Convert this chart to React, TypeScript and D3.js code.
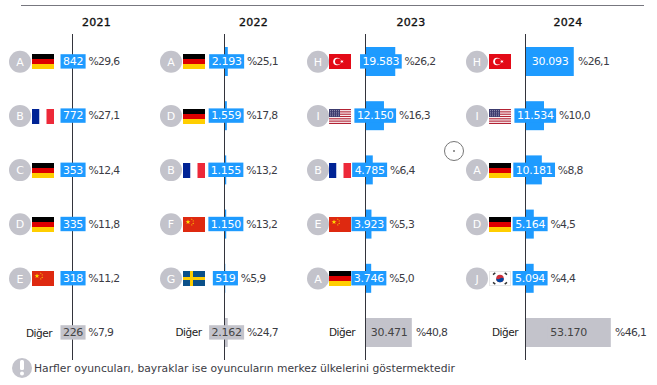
import React from "react";
import * as d3 from "d3";

const years = ["2021", "2022", "2023", "2024"];
const players = [
  ["A", "B", "C", "D", "E", "Diğer"],
  ["A", "D", "B", "F", "G", "Diğer"],
  ["H", "I", "B", "E", "A", "Diğer"],
  ["H", "I", "A", "D", "J", "Diğer"],
];
const flags = [
  ["de", "fr", "de", "de", "cn", ""],
  ["de", "de", "fr", "cn", "se", ""],
  ["tr", "us", "fr", "cn", "de", ""],
  ["tr", "us", "de", "de", "kr", ""],
];
const values = [
  [842, 772, 353, 335, 318, 226],
  [2193, 1559, 1155, 1150, 519, 2162],
  [19583, 12150, 4785, 3923, 3746, 30471],
  [30093, 11534, 10181, 5164, 5094, 53170],
];
const shares = [
  [29.6, 27.1, 12.4, 11.8, 11.2, 7.9],
  [25.1, 17.8, 13.2, 13.2, 5.9, 24.7],
  [26.2, 16.3, 6.4, 5.3, 5.0, 40.8],
  [26.1, 10.0, 8.8, 4.5, 4.4, 46.1],
];
const scaleMax = [150000, 60000, 30471, 53170];
const scalePx = [25, 90, 46.3, 85.3];
const axisX = [72.5, 224.5, 365.5, 525.5];
const headerX = [96.5, 253.5, 411, 568];
const circleX = [20, 171, 318, 477];
const flagX = [32, 183, 329, 489];
const otherX = [39, 188.5, 342, 505];
const otherY = [333, 332, 332, 332];
const FONT = "'DejaVu Sans', Verdana, sans-serif";
const BLUE = "#1e9bff";
const GREY = "#c3c3cb";

const fmt = (v: number) => String(v).replace(/\B(?=(\d{3})+$)/g, ".");
const pct = (v: number) => "%" + v.toFixed(1).replace(".", ",");

const canvas = document.createElement("canvas");
const VALUE_SIZE = 11;
const VALUE_LS = -0.3;
const textW = (s: string, size: number, ls = 0) => {
  const c = canvas.getContext("2d")!;
  c.font = `${size}px 'DejaVu Sans'`;
  return c.measureText(s).width + ls * s.length;
};

const rowY = d3.scaleBand<number>().domain(d3.range(6)).range([47, 347]).paddingInner(0.465);

function Star({ cx, cy, r, fill, rot = 0 }: any) {
  const pts = d3.range(10).map((i) => {
    const a = (i * Math.PI) / 5 - Math.PI / 2 + rot;
    const rr = i % 2 ? r * 0.4 : r;
    return `${cx + rr * Math.cos(a)},${cy + rr * Math.sin(a)}`;
  });
  return <polygon points={pts.join(" ")} fill={fill} />;
}

function Flag({ code }: { code: string }) {
  if (code === "de")
    return (
      <g>
        <rect width={22} height={5} fill="#000" />
        <rect y={5} width={22} height={5} fill="#dd0000" />
        <rect y={10} width={22} height={5} fill="#ffce00" />
      </g>
    );
  if (code === "fr")
    return (
      <g>
        <rect width={7.5} height={15} fill="#002395" />
        <rect x={7.5} width={7} height={15} fill="#fff" />
        <rect x={14.5} width={7.5} height={15} fill="#ed2939" />
      </g>
    );
  if (code === "cn")
    return (
      <g>
        <rect width={22} height={15} fill="#de2910" />
        <Star cx={5} cy={5} r={2.6} fill="#ffde00" />
        <Star cx={8.8} cy={2.2} r={0.9} fill="#ffde00" />
        <Star cx={10.2} cy={4} r={0.9} fill="#ffde00" />
        <Star cx={10.2} cy={6.4} r={0.9} fill="#ffde00" />
        <Star cx={8.8} cy={8} r={0.9} fill="#ffde00" />
      </g>
    );
  if (code === "se")
    return (
      <g>
        <rect width={22} height={15} fill="#0b5089" />
        <rect x={7} width={3} height={15} fill="#fecc00" />
        <rect y={6} width={22} height={3} fill="#fecc00" />
      </g>
    );
  if (code === "tr")
    return (
      <g>
        <rect width={22} height={15} fill="#e30a17" />
        <circle cx={8} cy={7.5} r={3.8} fill="#fff" />
        <circle cx={9} cy={7.5} r={3} fill="#e30a17" />
        <Star cx={13} cy={7.5} r={1.9} fill="#fff" rot={-Math.PI / 2} />
      </g>
    );
  if (code === "us")
    return (
      <g>
        <rect width={22} height={15} fill="#fff" />
        {d3.range(7).map((i) => (
          <rect key={i} y={(i * 2 * 15) / 13} width={22} height={15 / 13} fill="#b22234" />
        ))}
        <rect width={11} height={8} fill="#3c3b6e" />
        {d3.range(4).map((r) =>
          d3.range(5).map((c) => (
            <rect key={`${r}-${c}`} x={1 + c * 2} y={1 + r * 1.8} width={0.8} height={0.8} fill="#b9b9d2" />
          ))
        )}
      </g>
    );
  if (code === "kr")
    return (
      <g>
        <rect x={0.5} y={0.5} width={21} height={14} fill="#fff" stroke="#e8e8e8" />
        <circle cx={11} cy={7.5} r={3.8} fill="#cd2e3a" />
        <path d="M7.2 7.5 A3.8 3.8 0 0 0 14.8 7.5 Q13 6 11 7.5 Q9 9 7.2 7.5Z" fill="#0047a0" />
        <g stroke="#333" strokeWidth={1.5} strokeLinecap="butt">
          <path d="M4 3.6 L6.3 1.9" />
          <path d="M15.7 1.9 L18 3.6" />
          <path d="M4 11.4 L6.3 13.1" />
          <path d="M15.7 13.1 L18 11.4" />
        </g>
      </g>
    );
  return null;
}

function Column({ col }: { col: number }) {
  const x0 = axisX[col];
  const x = d3.scaleLinear().domain([0, scaleMax[col]]).range([x0, x0 + scalePx[col]]);
  const band = rowY.bandwidth();
  return (
    <g>
      <text x={headerX[col]} y={26} textAnchor="middle" fontSize={11} fill="#111" stroke="#111" strokeWidth={0.35} letterSpacing={0.2} style={{ fontFamily: FONT }}>
        {years[col]}
      </text>
      {values[col].map((v, i) => {
        const color = i === 5 ? GREY : BLUE;
        return <rect key={i} x={x0} y={rowY(i)!} width={x(v) - x0} height={band} fill={color} />;
      })}
      <line x1={x0} x2={x0} y1={34} y2={360} stroke="#33343c" strokeWidth={1} />
      {values[col].map((v, i) => {
        const isOther = i === 5;
        const color = isOther ? GREY : BLUE;
        const y = rowY(i)!;
        const cy = y + band / 2 - 0.3;
        const end = x(v);
        const center = (x0 + end) / 2 + 0.5;
        const label = fmt(v);
        const w = textW(label, VALUE_SIZE, VALUE_LS);
        const boxL = center - w / 2 - 2.5;
        const boxR = center + w / 2 + 2.5;
        const pctX = end > boxR ? end + 4.3 : boxR + 2.8;
        return (
          <g key={i} style={{ fontFamily: FONT }}>
            <rect x={boxL} y={cy - 7} width={boxR - boxL} height={14.4} fill={color} />
            <text x={center} y={cy + 4} textAnchor="middle" fontSize={VALUE_SIZE} letterSpacing={VALUE_LS} fill={isOther ? "#444" : "#fff"}>
              {label}
            </text>
            <text x={pctX} y={cy + 4} fontSize={10.8} letterSpacing={-0.65} fill="#3b3b44">
              {pct(shares[col][i])}
            </text>
            {isOther ? (
              <text x={otherX[col]} y={otherY[col] + 3.5} textAnchor="middle" fontSize={10.5} letterSpacing={-0.5} fill="#222">
                {players[col][i]}
              </text>
            ) : (
              <g>
                <circle cx={circleX[col]} cy={cy + 0.5} r={11} fill={GREY} />
                <text x={circleX[col]} y={cy + 4.5} textAnchor="middle" fontSize={11} fill="#fff">
                  {players[col][i]}
                </text>
                <g transform={`translate(${flagX[col]},${Math.round(cy - 6.7)})`}>
                  <Flag code={flags[col][i]} />
                </g>
              </g>
            )}
          </g>
        );
      })}
    </g>
  );
}

export default function App() {
  return (
    <svg width={657} height={385} style={{ position: "absolute", left: 0, top: 0, background: "#fff" }}>
      <line x1={21} x2={644} y1={5.5} y2={5.5} stroke="#77777f" strokeWidth={1} />
      {years.map((_, c) => (
        <Column key={c} col={c} />
      ))}
      <circle cx={454} cy={151} r={9.5} fill="#fff" stroke="#777" strokeWidth={1} />
      <circle cx={454} cy={151} r={1} fill="#777" />
      <circle cx={22} cy={368} r={10} fill={GREY} />
      <rect x={20} y={360} width={4} height={10} rx={1.5} fill="#fff" />
      <circle cx={22} cy={373.5} r={2} fill="#fff" />
      <text x={34} y={372} fontSize={10.75} fill="#3b3b44" style={{ fontFamily: FONT }}>
        Harfler oyuncuları, bayraklar ise oyuncuların merkez ülkelerini göstermektedir
      </text>
    </svg>
  );
}
